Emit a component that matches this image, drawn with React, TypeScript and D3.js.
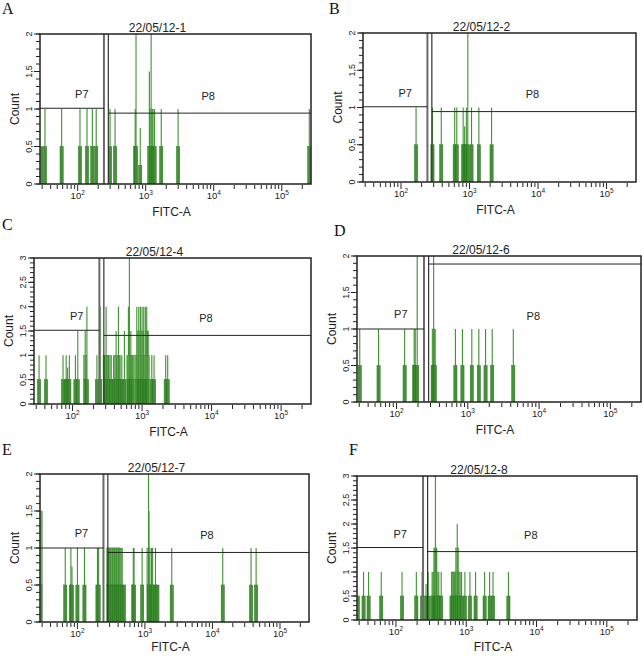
import React from 'react';
import * as d3 from 'd3';

// [FITC-A value, peak count, shoulder count]
type Ev = [number, number, number];

const sampleNames = ['22/05/12-1', '22/05/12-2', '22/05/12-4', '22/05/12-6', '22/05/12-7', '22/05/12-8'];
const panelLetters = ['A', 'B', 'C', 'D', 'E', 'F'];
const countMax = [2, 2, 3, 2, 2, 3];
const p7Level = [1.01, 1.01, 1.515, 1.0, 1.0, 1.51];
const p8Level = [0.945, 0.945, 1.41, 1.89, 0.94, 1.425];
const p7Upper = 243;
const p8Lower = 282;
const fitcDomain: [number, number] = [27.9, 269000];
const decadeTicks = [100, 1000, 10000, 100000];

const eventsA: Ev[] = [
  [29, 0.5, 0.5], [33, 1, 0.5], [58, 1, 0.5], [108, 1, 0.5], [137, 1, 0.5], [164, 1, 0.5], [187, 1, 0.5],
  [299, 1, 0.5], [354, 1, 0.5], [700, 1, 0.5], [720, 2, 0.5], [830, 0.75, 0.25], [1130, 1.5, 0.5],
  [1200, 2, 1], [1280, 1, 0.5], [1350, 1, 0.5], [1690, 1, 0.5], [2990, 1, 0.5], [254000, 1, 0.5],
];
const eventsB: Ev[] = [
  [166, 1, 0.5], [288, 1, 0.5], [387, 1, 0.5], [608, 1, 0.5], [652, 1, 0.5], [807, 1, 0.5],
  [850, 0.75, 0.5], [900, 1, 0.5], [945, 2, 0.5], [1070, 1, 0.5], [1370, 1, 0.5], [2100, 1, 0.5],
];
const eventsC: Ev[] = [
  [33, 1, 0.5], [41.5, 1, 0.5], [73, 1, 0.5], [81, 1, 0.5], [85, 0.75, 0.5], [90, 1, 0.5],
  [110, 1, 0.5], [119, 1.5, 0.5], [152, 1.5, 1], [161, 2, 0.5], [224, 1, 0.5], [250, 2, 0.5],
  [290, 1, 1], [304, 2, 1], [330, 1, 1], [360, 1, 0.5], [390, 1, 0.5], [423, 1.5, 1], [457, 2, 1],
  [480, 1, 0.5], [511, 1, 0.5], [557, 1.5, 0.5], [636, 2, 1], [657, 3, 1], [689, 1.5, 1], [736, 1, 1],
  [840, 2, 1], [897, 2, 1.5], [946, 2, 1], [1000, 2, 1.5], [1057, 2, 1], [1115, 2, 1], [1167, 2, 1.5],
  [1207, 1.5, 1], [1380, 1, 0.5], [1487, 1, 0.5], [2188, 1, 0.5], [2339, 1, 0.5],
];
const eventsD: Ev[] = [
  [30.5, 1, 0.5], [56, 1, 0.5], [130, 1, 0.5], [177, 1, 0.5], [183, 1, 0.5], [195, 2, 0.5],
  [322, 1, 0.5], [332, 2, 1], [345, 1, 0.5], [670, 1, 0.5], [841, 1, 0.5], [1138, 1, 0.5],
  [1428, 1, 0.5], [1775, 1, 0.5], [2200, 1, 0.5], [4345, 1, 0.5],
];
const eventsE: Ev[] = [
  [28.5, 1.5, 1.5], [66, 1, 0.5], [80, 1, 0.5], [83, 0.75, 0.5], [100, 1, 0.5], [127, 1, 0.5],
  [198, 1, 0.5], [206, 1, 0.5], [287, 1, 1], [303, 1, 1], [328, 1, 1], [351, 1, 1], [376, 1, 1],
  [403, 1, 1], [427, 1, 1], [461, 1, 0.5], [489, 0.5, 0.5], [672, 1, 0.5], [690, 1, 0.5],
  [909, 1, 0.5], [1129, 2, 1], [1150, 1.5, 0.5], [1250, 1, 0.5], [1300, 1, 0.5], [1432, 1, 0.5],
  [1530, 0.5, 0.5], [2494, 1, 0.5], [14200, 1, 0.5], [37300, 1, 0.5], [44300, 1, 0.5],
];
const eventsF: Ev[] = [
  [28.7, 0.5, 0.5], [34.6, 1, 0.5], [40.8, 1, 0.5], [61.7, 1, 0.5], [122, 1, 0.5], [195, 1, 0.5],
  [235, 1, 0.5], [268, 0.75, 0.5], [287, 1, 0.5], [327, 1, 0.5], [353, 1.5, 1], [364, 3, 1.5],
  [376, 1.5, 1], [407, 1, 0.5], [440, 1, 0.5], [617, 1, 0.5], [650, 1, 1], [690, 1, 1], [744, 2, 1.5],
  [787, 1, 1], [858, 1, 0.5], [957, 1, 0.5], [1129, 1, 0.5], [1358, 1, 0.5], [1825, 1, 0.5],
  [2152, 1, 0.5], [2404, 1, 0.5], [3981, 1, 0.5],
];
const panelEvents = [eventsA, eventsB, eventsC, eventsD, eventsE, eventsF];

// plot frames (pixels) and letter positions
const frames = [
  { x: 40, y: 34, w: 271, h: 150 },
  { x: 363, y: 33, w: 273, h: 149 },
  { x: 34, y: 258, w: 277, h: 146 },
  { x: 357, y: 256, w: 284, h: 146 },
  { x: 40, y: 474, w: 269, h: 148 },
  { x: 357, y: 476, w: 280, h: 144 },
];
const letterPos = [[2, 14], [329, 14], [2, 230], [334, 236], [2, 455], [349, 455]];

const sans = '"Liberation Sans", Arial, sans-serif';
const ink = '#222';

function Panel({ i }: { i: number }) {
  const f = frames[i];
  const max = countMax[i];
  const x = d3.scaleLog().domain(fitcDomain).range([f.x, f.x + f.w]);
  const y = d3.scaleLinear().domain([0, max]).range([f.y + f.h, f.y]);
  const y0 = y(0);

  const minor: number[] = [];
  [10, 100, 1000, 10000, 100000].forEach(d => {
    for (let k = 2; k <= 9; k++) {
      const v = d * k;
      if (v > fitcDomain[0] && v < fitcDomain[1]) minor.push(v);
    }
  });
  const yMinor = d3.range(0, Math.round(max * 10) + 1).map(k => k / 10);
  const yMajor = d3.range(0, max * 2 + 1).map(k => k / 2);
  const clipId = `clip-${i}`;
  const cx = f.x + f.w / 2;

  return (
    <g>
      <clipPath id={clipId}>
        <rect x={f.x + 0.5} y={f.y} width={f.w} height={f.h} />
      </clipPath>
      <text x={letterPos[i][0]} y={letterPos[i][1]} fontFamily='"Liberation Serif", "Times New Roman", serif'
        fontSize={16} fill="#111">{panelLetters[i]}</text>
      <text x={cx - 18} y={f.y - 2} textAnchor="middle" fontFamily={sans} fontSize={12} fill={ink}>
        {sampleNames[i]}
      </text>

      <g clipPath={`url(#${clipId})`}>
        {panelEvents[i].map(([v, peak, base], k) => {
          const low = Math.min(base, 0.5);
          return (
            <g key={k}>
              {base > 0.5 && (
                <rect x={x(v) - 1.6} width={3.2} y={y(base)} height={y(low) - y(base)}
                  fill="#6cab5c" fillOpacity={0.8} stroke="#3a8a2c" strokeWidth={0.5} />
              )}
              <rect x={x(v) - 1.6} width={3.2} y={y(low)} height={y0 - y(low)}
                fill="#3a8a2c" fillOpacity={0.9} stroke="#24701a" strokeWidth={0.5} />
              <line x1={x(v)} x2={x(v)} y1={y0} y2={y(peak)} stroke="#3d9130" strokeWidth={1.1} />
            </g>
          );
        })}
      </g>

      {/* gates */}
      <line x1={x(p7Upper)} x2={x(p7Upper)} y1={f.y} y2={y0} stroke="#6a6a6a" strokeWidth={2} />
      <line x1={x(p8Lower)} x2={x(p8Lower)} y1={f.y} y2={y0} stroke="#333" strokeWidth={1.2} />
      <line x1={f.x} x2={x(p7Upper)} y1={y(p7Level[i])} y2={y(p7Level[i])} stroke="#222" strokeWidth={1} />
      <line x1={x(p8Lower)} x2={f.x + f.w} y1={y(p8Level[i])} y2={y(p8Level[i])} stroke="#222" strokeWidth={1} />
      <text x={x(115)} y={y(max * 0.6) + 4} textAnchor="middle" fontFamily={sans} fontSize={11} fill={ink}>P7</text>
      <text x={x(8300)} y={y(max * 0.59) + 4} textAnchor="middle" fontFamily={sans} fontSize={11} fill={ink}>P8</text>

      <rect x={f.x} y={f.y} width={f.w} height={f.h} fill="none" stroke="#222" strokeWidth={1.5} />

      {/* x axis */}
      {minor.map(v => (
        <line key={`m${v}`} x1={x(v)} x2={x(v)} y1={y0 + 1} y2={y0 + 5} stroke={ink} strokeWidth={1} />
      ))}
      {decadeTicks.map((v, k) => (
        <g key={`d${v}`}>
          <line x1={x(v)} x2={x(v)} y1={y0 + 1} y2={y0 + 7} stroke={ink} strokeWidth={1} />
          <text x={x(v)} y={y0 + 15} textAnchor="middle" fontFamily={sans} fontSize={9.5} fill={ink}>
            10<tspan dy={-4} fontSize={6.5}>{k + 2}</tspan>
          </text>
        </g>
      ))}
      <text x={cx - 4} y={Math.min(y0 + 32, 651)} textAnchor="middle" fontFamily={sans} fontSize={12} fill={ink}>FITC-A</text>

      {/* y axis */}
      {yMinor.map(v => (
        <line key={`ym${v}`} x1={f.x - 4} x2={f.x} y1={y(v)} y2={y(v)} stroke={ink} strokeWidth={1} />
      ))}
      {yMajor.map(v => (
        <g key={`yM${v}`}>
          <line x1={f.x - 6} x2={f.x} y1={y(v)} y2={y(v)} stroke={ink} strokeWidth={1} />
          <text transform={`translate(${f.x - 8},${y(v)}) rotate(-90)`} textAnchor="middle"
            fontFamily={sans} fontSize={9} fill={ink}>{String(v).replace('.', ',')}</text>
        </g>
      ))}
      <text transform={`translate(${f.x - 21},${f.y + f.h / 2}) rotate(-90)`} textAnchor="middle"
        fontFamily={sans} fontSize={12} fill={ink}>Count</text>
    </g>
  );
}

export default function App() {
  return (
    <svg width={644} height={656} style={{ position: 'absolute', left: 0, top: 0, background: '#fff' }}>
      <rect width={644} height={656} fill="#fff" />
      {frames.map((_, i) => <Panel key={i} i={i} />)}
    </svg>
  );
}
